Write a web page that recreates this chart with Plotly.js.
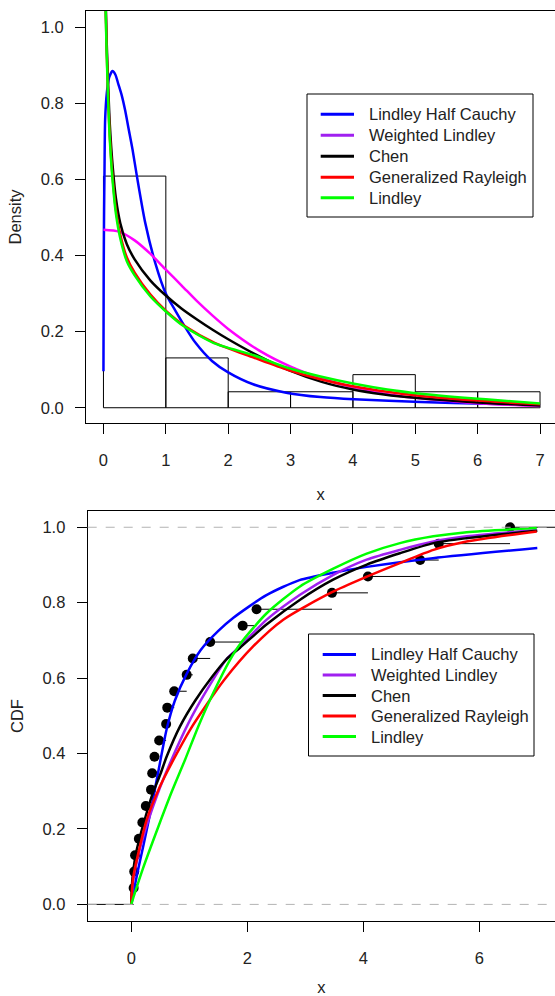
<!DOCTYPE html>
<html>
<head>
<meta charset="utf-8">
<script src="https://cdn.plot.ly/plotly-3.0.1.min.js"></script>
<style>html,body{margin:0;padding:0;background:#fff;}#chart{width:555px;height:996px;}</style>
</head>
<body>
<div id="chart"></div>
<script>
// ---------- Top panel: histogram + fitted densities ----------
const binLeft = [0, 1, 2, 3, 4, 5, 6];
const binDensity = [0.609, 0.131, 0.042, 0.042, 0.087, 0.042, 0.042];
const xTicksTop = [0, 1, 2, 3, 4, 5, 6, 7];

const lhcX = [0, 0.004, 0.01, 0.016, 0.027, 0.054, 0.09, 0.145, 0.19, 0.24, 0.295, 0.35, 0.40, 0.466, 0.536, 0.67, 0.83, 1.0, 1.15, 1.31, 1.47, 1.74, 2.0, 2.41, 2.95, 3.48, 4.02, 5.09, 6.13, 7.0];
const lhcY = [0.096, 0.35, 0.52, 0.61, 0.758, 0.828, 0.868, 0.885, 0.876, 0.85, 0.82, 0.78, 0.736, 0.679, 0.609, 0.486, 0.381, 0.30, 0.256, 0.212, 0.172, 0.123, 0.093, 0.061, 0.039, 0.028, 0.022, 0.015, 0.0105, 0.007];

const wlX = [0, 0.25, 0.5, 0.75, 1.0, 1.25, 1.5, 1.75, 2.0, 2.5, 3.0, 3.5, 4.0, 4.5, 5.0, 6.0, 7.0];
const wlY = [0.468, 0.463, 0.44, 0.405, 0.363, 0.322, 0.28, 0.242, 0.207, 0.15, 0.108, 0.077, 0.054, 0.037, 0.026, 0.012, 0.0044];

const chenX = [0.015, 0.03, 0.05, 0.075, 0.1, 0.15, 0.2, 0.27, 0.375, 0.5, 0.75, 1.0, 1.25, 1.5, 1.75, 2.0, 2.5, 3.0, 3.5, 4.0, 4.5, 5.0, 6.0, 7.0];
const chenY = [1.3, 1.12, 0.97, 0.85, 0.75, 0.63, 0.55, 0.485, 0.43, 0.39, 0.335, 0.295, 0.261, 0.232, 0.205, 0.18, 0.135, 0.097, 0.068, 0.048, 0.035, 0.026, 0.014, 0.006];

const grX = [0.015, 0.03, 0.05, 0.075, 0.1, 0.15, 0.2, 0.27, 0.375, 0.5, 0.75, 1.0, 1.31, 1.79, 2.41, 2.95, 3.48, 4.02, 4.55, 5.09, 6.13, 7.0];
const grY = [1.3, 1.1, 0.95, 0.82, 0.72, 0.6, 0.52, 0.455, 0.395, 0.355, 0.298, 0.255, 0.214, 0.17, 0.132, 0.10, 0.075, 0.056, 0.042, 0.031, 0.0175, 0.009];

const linX = [0.015, 0.03, 0.05, 0.075, 0.1, 0.15, 0.2, 0.27, 0.375, 0.5, 0.75, 1.0, 1.29, 1.77, 2.41, 2.95, 3.48, 4.02, 4.55, 5.09, 6.13, 7.0];
const linY = [1.3, 1.09, 0.94, 0.81, 0.71, 0.59, 0.51, 0.445, 0.385, 0.348, 0.293, 0.253, 0.214, 0.17, 0.138, 0.105, 0.082, 0.063, 0.048, 0.037, 0.022, 0.0114];

// ---------- Bottom panel: ECDF + fitted CDFs ----------
const obs = [0.04, 0.05, 0.065, 0.13, 0.19, 0.25, 0.34, 0.36, 0.40, 0.48, 0.60, 0.62, 0.74, 0.955, 1.06, 1.36, 1.92, 2.16, 3.46, 4.08, 4.98, 5.30, 6.53];
const xTicksBottom = [0, 2, 4, 6];
const yTicks = [0, 0.2, 0.4, 0.6, 0.8, 1.0];

const cLhcX = [0, 0.03, 0.1, 0.2, 0.35, 0.5, 0.61, 0.75, 0.95, 1.2, 1.5, 1.76, 2.33, 2.9, 3.5, 4.06, 5.2, 7.0];
const cLhcY = [0, 0.025, 0.08, 0.15, 0.26, 0.38, 0.465, 0.54, 0.61, 0.675, 0.725, 0.76, 0.82, 0.86, 0.88, 0.895, 0.918, 0.945];

const cWlX = [0, 0.02, 0.05, 0.207, 0.437, 0.667, 0.983, 1.27, 1.64, 1.874, 2.334, 2.909, 3.483, 4.058, 4.632, 5.207, 5.782, 6.99];
const cWlY = [0, 0.045, 0.08, 0.18, 0.286, 0.374, 0.48, 0.56, 0.65, 0.684, 0.755, 0.821, 0.874, 0.914, 0.94, 0.962, 0.976, 0.993];

const cChenX = [0, 0.01, 0.035, 0.08, 0.15, 0.25, 0.35, 0.5, 0.61, 0.84, 1.1, 1.4, 1.64, 1.87, 2.33, 2.91, 3.48, 4.06, 4.63, 5.21, 5.78, 7.0];
const cChenY = [0, 0.05, 0.091, 0.135, 0.18, 0.235, 0.286, 0.345, 0.392, 0.472, 0.54, 0.605, 0.65, 0.68, 0.742, 0.808, 0.861, 0.901, 0.931, 0.958, 0.971, 0.991];

const cGrX = [0, 0.01, 0.035, 0.121, 0.265, 0.495, 0.725, 1.013, 1.3, 1.6, 2.1, 2.62, 3.46, 4.06, 4.63, 5.21, 5.78, 6.99];
const cGrY = [0, 0.035, 0.074, 0.136, 0.224, 0.313, 0.383, 0.463, 0.53, 0.595, 0.684, 0.755, 0.828, 0.869, 0.905, 0.94, 0.962, 0.989];

const cLinX = [0, 0.05, 0.2, 0.466, 0.7, 0.925, 1.155, 1.41, 1.70, 1.874, 2.334, 2.909, 3.483, 4.058, 4.632, 5.207, 5.782, 6.99];
const cLinY = [0, 0.025, 0.095, 0.206, 0.3, 0.383, 0.472, 0.56, 0.648, 0.69, 0.772, 0.843, 0.89, 0.93, 0.958, 0.976, 0.987, 0.998];

const seriesNames = ["Lindley Half Cauchy", "Weighted Lindley", "Chen", "Generalized Rayleigh", "Lindley"];
const legendColors = ["#0000FF", "#A020F0", "#000000", "#FF0000", "#00FF00"];
const cols = {blue: "#0000FF", purple: "#A020F0", magenta: "#FF00FF", black: "#000000", red: "#FF0000", green: "#00FF00"};

const FONT = "Liberation Sans, Arial, Helvetica, sans-serif";
const FS = 16.5;
const LW = 2.5;
const TXT = "#222";

function curve(x, y, color, name, xa, ya) {
  return {type: "scatter", mode: "lines", x: x, y: y, name: name,
    line: {color: color, width: LW, shape: "spline", smoothing: 0.7},
    xaxis: xa, yaxis: ya, showlegend: false, hoverinfo: "skip"};
}

const traces = [];
traces.push({type: "bar", x: binLeft, y: binDensity, width: 1, offset: 0, name: "Histogram",
  marker: {color: "rgba(0,0,0,0)", line: {color: "#000", width: 1}},
  xaxis: "x", yaxis: "y", showlegend: false, hoverinfo: "skip"});
traces.push(curve(lhcX, lhcY, cols.blue, seriesNames[0], "x", "y"));
traces.push(curve(wlX, wlY, cols.magenta, seriesNames[1], "x", "y"));
traces.push(curve(chenX, chenY, cols.black, seriesNames[2], "x", "y"));
traces.push(curve(grX, grY, cols.red, seriesNames[3], "x", "y"));
traces.push(curve(linX, linY, cols.green, seriesNames[4], "x", "y"));

// ECDF steps
const n = obs.length;
const xLeftLim = -1, xRightLim = 8;
const stepX = [], stepY = [];
const bounds = [xLeftLim].concat(obs).concat([xRightLim]);
for (let i = 0; i <= n; i++) {
  stepX.push(bounds[i], bounds[i + 1], null);
  stepY.push(i / n, i / n, null);
}
traces.push({type: "scatter", mode: "lines", x: stepX, y: stepY, name: "ECDF", line: {color: "#000", width: 1},
  xaxis: "x2", yaxis: "y2", showlegend: false, hoverinfo: "skip", connectgaps: false});
traces.push({type: "scatter", mode: "markers", x: obs, y: obs.map((v, i) => (i + 1) / n), name: "ECDF points",
  marker: {color: "#000", size: 10}, xaxis: "x2", yaxis: "y2", showlegend: false, hoverinfo: "skip"});

traces.push(curve(cLhcX, cLhcY, cols.blue, seriesNames[0], "x2", "y2"));
traces.push(curve(cWlX, cWlY, cols.purple, seriesNames[1], "x2", "y2"));
traces.push(curve(cChenX, cChenY, cols.black, seriesNames[2], "x2", "y2"));
traces.push(curve(cGrX, cGrY, cols.red, seriesNames[3], "x2", "y2"));
traces.push(curve(cLinX, cLinY, cols.green, seriesNames[4], "x2", "y2"));

// ---------- layout ----------
const M = {l: 86, r: 0, t: 11, b: 75};
const W = 555, H = 996;
const PW = W - M.l - M.r, PH = H - M.t - M.b;
const px = v => (v - M.l) / PW;            // pixel x -> paper
const py = v => (H - M.b - v) / PH;        // pixel y -> paper

const axBase = {showgrid: false, zeroline: false, ticks: "outside", ticklen: 10, tickwidth: 1, tickcolor: "#000",
  showline: true, linecolor: "#000", linewidth: 1, tickfont: {family: FONT, size: FS, color: TXT}};
const tFont = {family: FONT, size: FS, color: TXT};

// legend boxes drawn as paper shapes + annotations
function legendBox(box, lineX0, lineX1, textX, ys) {
  const shapes = [{type: "rect", xref: "paper", yref: "paper", x0: px(box[0]), x1: px(box[2]), y0: py(box[1]), y1: py(box[3]),
    line: {color: "#000", width: 1}, fillcolor: "#fff", layer: "above"}];
  const anns = [];
  seriesNames.forEach((nm, i) => {
    shapes.push({type: "line", xref: "paper", yref: "paper", x0: px(lineX0), x1: px(lineX1), y0: py(ys[i]), y1: py(ys[i]),
      line: {color: legendColors[i], width: 3}, layer: "above"});
    anns.push({xref: "paper", yref: "paper", x: px(textX), y: py(ys[i]), xanchor: "left", yanchor: "middle",
      text: nm, showarrow: false, font: {family: FONT, size: FS, color: TXT}, borderpad: 0});
  });
  return {shapes, anns};
}
const legTop = legendBox([307, 94, 533, 217], 320.7, 354, 367.5, [114.3, 135.3, 156.3, 177.3, 197.7]);
const legBot = legendBox([308.5, 634, 534, 756], 322.7, 356, 369.5, [654.5, 675, 695.5, 716, 736.5]);

const refLines = [0, 1].map(v => ({type: "line", xref: "x2 domain", yref: "y2", x0: 0, x1: 1, y0: v, y1: v,
  line: {color: "#B3B3B3", width: 1, dash: "dash"}, layer: "above"}));

const layout = {
  width: W, height: H,
  margin: M,
  paper_bgcolor: "#fff", plot_bgcolor: "#fff",
  font: {family: FONT, size: FS, color: TXT},
  barmode: "overlay",
  showlegend: false,
  xaxis: Object.assign({}, axBase, {domain: [0, 1], range: [-0.28, 7.24], tickvals: xTicksTop, mirror: true, anchor: "y",
    ticklabelstandoff: 12, title: {text: "x", font: tFont, standoff: 20}}),
  yaxis: Object.assign({}, axBase, {domain: [0.5473, 1], range: [-0.04, 1.043], tickvals: yTicks, tickformat: ".1f", anchor: "x",
    ticklabelstandoff: 8, title: {text: "Density", font: tFont, standoff: 14}}),
  xaxis2: Object.assign({}, axBase, {domain: [0.0036, 1], range: [-0.752, 7.305], tickvals: xTicksBottom, mirror: true, anchor: "y2",
    ticklabelstandoff: 12, title: {text: "x", font: tFont, standoff: 20}}),
  yaxis2: Object.assign({}, axBase, {domain: [0, 0.4505], range: [-0.044, 1.043], tickvals: yTicks, tickformat: ".1f", anchor: "x2",
    ticklabelstandoff: 8, title: {text: "CDF", font: tFont, standoff: 14}}),
  shapes: refLines.concat(legTop.shapes).concat(legBot.shapes),
  annotations: legTop.anns.concat(legBot.anns)
};

Plotly.newPlot("chart", traces, layout, {staticPlot: true, displayModeBar: false});
</script>
</body>
</html>
